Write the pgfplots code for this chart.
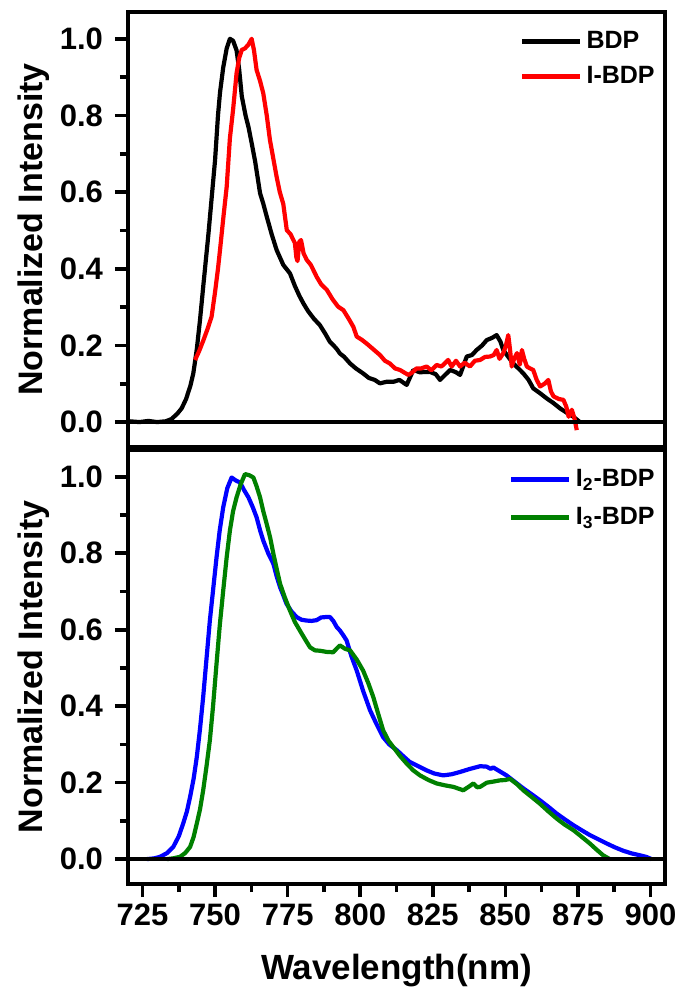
\documentclass[border=0pt]{standalone}
\usepackage{fontspec}
\setmainfont{Liberation Sans}
\usepackage{pgfplots}
\pgfplotsset{compat=1.18}

\definecolor{olivegreen}{RGB}{0,128,0}

\pgfplotsset{
  panel/.style={
    scale only axis,
    width=268.5pt, height=217pt,
    xmin=720, xmax=905,
    ymin=-0.065, ymax=1.07,
    ytick={0,0.2,...,1.0},
    minor y tick num=1,
    ytick pos=left,
    tick align=outside,
    major tick length=6.5pt,
    minor tick length=4pt,
    axis line style={line width=1.8pt},
    every tick/.style={line width=1.8pt, black},
    /pgf/number format/assume math mode=true,
    yticklabel style={/pgf/number format/fixed, /pgf/number format/fixed zerofill,
      /pgf/number format/precision=1, xshift=-2.5pt},
    tick label style={font=\fontsize{15.5}{15.5}\selectfont\bfseries},
    ylabel={Normalized Intensity},
    ylabel style={font=\fontsize{17}{17}\selectfont\bfseries, at={(axis description cs:-0.16,0.5)}, anchor=base},
    legend cell align=left,
    legend style={draw=none, fill=none, font=\fontsize{12.5}{12.5}\selectfont\bfseries,
      at={(axis description cs:1.0,0.975)}, anchor=north east, row sep=3.5pt},
  },
  curve/.style={line width=2.1pt, line join=round, mark=none},
}

\begin{document}
\begin{tikzpicture}
% upper panel
\begin{axis}[panel, at={(0,218.5pt)}, height=217.5pt, xtick=\empty,
  legend image code/.code={\draw[#1, line width=2.4pt] (0pt,0pt) -- (29pt,0pt);}]
\addplot[curve, black] coordinates {
(720.5,0.002) (724,0.0) (727,0.003) (730,0.0) (733,0.002) (735,0.008) (737,0.022) (738.5,0.036)
(740,0.06) (741.5,0.095) (742.5,0.127) (743.7,0.19) (744.8,0.266) (746,0.36) (747.7,0.49)
(749,0.6) (750,0.684) (751,0.80) (751.7,0.86) (752.8,0.925) (754,0.975) (755.1,1.0) (756.2,0.995)
(757.4,0.97) (758.3,0.92) (759.2,0.85) (760.5,0.80) (761.5,0.77) (762.6,0.728) (763.8,0.68)
(765.5,0.597) (766.6,0.57) (767.8,0.536) (769.5,0.49) (771.2,0.449) (773.5,0.41) (775.8,0.388)
(777.5,0.355) (779,0.33) (780.4,0.31) (782,0.29) (784,0.27) (786.1,0.253) (788,0.23) (789.5,0.21)
(790.7,0.201) (792,0.19) (793,0.179) (794.5,0.17) (796.5,0.153) (798.5,0.14) (801,0.127)
(803,0.115) (805,0.11) (806.8,0.101) (809,0.105) (811.4,0.105) (813.5,0.11) (816,0.097)
(818.3,0.136) (820.5,0.13) (824,0.131) (826,0.125) (827.5,0.11) (829.5,0.125) (831,0.136)
(833,0.13) (834.4,0.123) (836.7,0.171) (838.5,0.175) (840.1,0.188) (842,0.2) (843.6,0.214)
(845.5,0.22) (847,0.227) (848.3,0.21) (849.3,0.188) (851,0.17) (852.7,0.153) (854.5,0.14)
(856.2,0.127) (858,0.11) (859.6,0.088) (862,0.075) (864.2,0.062) (866.5,0.05) (868.8,0.036)
(871,0.025) (873.4,0.014) (875.7,0.0)
};
\addlegendentry{BDP}
\addplot[curve, red] coordinates {
(743.1,0.162) (744.5,0.185) (746,0.214) (747.5,0.245) (748.8,0.275) (750,0.34) (751,0.40)
(751.7,0.449) (752.8,0.53) (754,0.614) (755.1,0.74) (756.2,0.815) (757.4,0.91) (758.3,0.95)
(759.2,0.971) (760.3,0.975) (761.5,0.985) (762.6,1.0) (763.4,0.97) (764.3,0.919) (765.5,0.89)
(766.6,0.858) (767.8,0.80) (768.9,0.736) (770,0.69) (771.2,0.64) (772.3,0.60) (773.5,0.569)
(774.7,0.501) (776,0.49) (777.5,0.467) (778,0.43) (778.4,0.42) (779,0.47) (779.6,0.475)
(780.5,0.44) (781.6,0.423) (783,0.41) (785,0.379) (786.5,0.36) (788.5,0.345) (790.5,0.32)
(792.4,0.301) (794.2,0.292) (796,0.27) (797.6,0.249) (798.8,0.223) (800.5,0.215) (802.2,0.205)
(804.5,0.19) (806.8,0.175) (808.5,0.16) (810.2,0.153) (812,0.14) (813.7,0.136) (815,0.13)
(816.6,0.123) (818,0.13) (819.4,0.14) (821,0.14) (822.9,0.145) (824.5,0.135) (826.3,0.149)
(828,0.145) (830.3,0.162) (831.5,0.145) (833,0.16) (834.4,0.145) (836,0.155) (837.8,0.145)
(839.5,0.16) (841.3,0.162) (843,0.17) (844.7,0.171) (846,0.175) (847,0.188) (848,0.165)
(849.3,0.18) (850.2,0.20) (851,0.227) (851.6,0.19) (852.2,0.145) (853,0.165) (854,0.18)
(855,0.15) (855.7,0.188) (856.5,0.165) (857.4,0.145) (858.5,0.14) (859.6,0.136) (860.8,0.11)
(862,0.093) (863.5,0.10) (864.8,0.11) (865.7,0.08) (866.6,0.067) (868.5,0.06) (870,0.058)
(871,0.04) (871.8,0.014) (872.9,0.032) (873.8,0.01) (874.6,-0.021)
};
\addlegendentry{I-BDP}
\draw[line width=1.8pt] (axis cs:720,0) -- (axis cs:905,0);
\end{axis}
% lower panel
\begin{axis}[panel, at={(0,0)},
  xtick={725,750,...,900}, minor x tick num=1, xtick pos=bottom,
  xlabel={Wavelength(nm)},
  xlabel style={font=\fontsize{17.5}{17.5}\selectfont\bfseries, at={(axis description cs:0.5,-0.221)}, anchor=base},
  legend style={at={(axis description cs:1.0,0.975)}, row sep=5pt},
  legend image code/.code={\draw[#1, line width=2.4pt] (0pt,0pt) -- (29pt,0pt);}]
\addplot[curve, blue] coordinates {
(726.4,0.0) (729,0.002) (731,0.006) (733.5,0.016) (735.6,0.032) (737.5,0.06) (739,0.093)
(740.3,0.125) (741.4,0.163) (742.6,0.21) (743.7,0.267) (744.8,0.34) (745.9,0.424) (747,0.52)
(748.2,0.624) (749.4,0.71) (750.5,0.789) (751.6,0.86) (752.8,0.92) (754.2,0.97) (755.7,0.998)
(757.2,0.99) (758.6,0.985) (760,0.965) (761.5,0.946) (763,0.92) (764.3,0.894) (765.5,0.86)
(766.6,0.833) (768.3,0.80) (770.1,0.772) (771.2,0.74) (772.4,0.711) (773.5,0.69) (774.6,0.668)
(776.3,0.648) (778.1,0.633) (779.8,0.626) (781.5,0.624) (783.2,0.623) (785,0.625) (786.5,0.632)
(788,0.633) (789.6,0.633) (790.8,0.622) (791.9,0.607) (793,0.598) (794.2,0.585) (795.3,0.572)
(797,0.53) (798.8,0.493) (801,0.44) (803.4,0.389) (805.5,0.355) (807.9,0.319) (810,0.30)
(812.6,0.285) (815,0.268) (817.1,0.254) (820,0.243) (822.9,0.232) (825.5,0.224) (828.6,0.219)
(831.5,0.222) (834.4,0.228) (837.8,0.236) (841.3,0.243) (843.5,0.242) (845,0.236) (845.8,0.24)
(848,0.23) (850.4,0.219) (853.3,0.202) (856.2,0.185) (859,0.17) (861.9,0.154) (864.8,0.137)
(867.7,0.119) (870.5,0.104) (873.4,0.089) (876.2,0.076) (879.1,0.063) (882,0.052) (884.9,0.041)
(887.7,0.031) (890.6,0.022) (893.5,0.015) (896.4,0.010) (898.5,0.006) (900.4,0.0)
};
\addlegendentry{I\textsubscript{2}-BDP}
\addplot[curve, olivegreen] coordinates {
(733.3,0.0) (735.5,0.002) (737.9,0.006) (739.7,0.016) (741.4,0.032) (742.6,0.058) (743.7,0.093)
(744.8,0.13) (745.9,0.18) (747,0.24) (748.2,0.311) (749.3,0.40) (750.5,0.511) (751.6,0.61)
(752.8,0.702) (754,0.79) (755.1,0.859) (756.2,0.91) (757.4,0.946) (758.8,0.98) (760.3,1.007)
(761.8,1.004) (763.2,0.998) (764.3,0.975) (765.5,0.946) (766.6,0.91) (767.8,0.876) (769,0.84)
(770.1,0.798) (771.2,0.76) (772.4,0.72) (774,0.685) (775.8,0.65) (777.5,0.62) (779.2,0.598)
(781,0.575) (782.7,0.554) (784.4,0.546) (786.1,0.545) (788.4,0.542) (790.7,0.541) (791.8,0.55)
(793,0.559) (794.8,0.55) (796.5,0.546) (798.8,0.522) (801,0.493) (802.8,0.46) (804.5,0.424)
(806.2,0.38) (807.9,0.337) (809.7,0.31) (811.4,0.293) (813.7,0.27) (816,0.25) (818.3,0.232)
(820.6,0.219) (823.5,0.207) (826.3,0.198) (829.2,0.193) (832.1,0.189) (835.5,0.18) (837.5,0.19)
(839,0.198) (840.3,0.188) (841.3,0.189) (843.6,0.2) (846,0.203) (848.1,0.206) (850,0.207)
(851.6,0.21) (854,0.196) (856.2,0.18) (859,0.163) (861.9,0.145) (864.8,0.125) (867.7,0.106)
(870.5,0.09) (873.4,0.076) (876.2,0.059) (879.1,0.041) (881.4,0.025) (883.7,0.01) (886,0.0)
};
\addlegendentry{I\textsubscript{3}-BDP}
\draw[line width=1.8pt] (axis cs:720,0) -- (axis cs:905,0);
\end{axis}
\pgfresetboundingbox
\path (-64pt,-52.5pt) rectangle (276.5pt,442pt);
\end{tikzpicture}
\end{document}
